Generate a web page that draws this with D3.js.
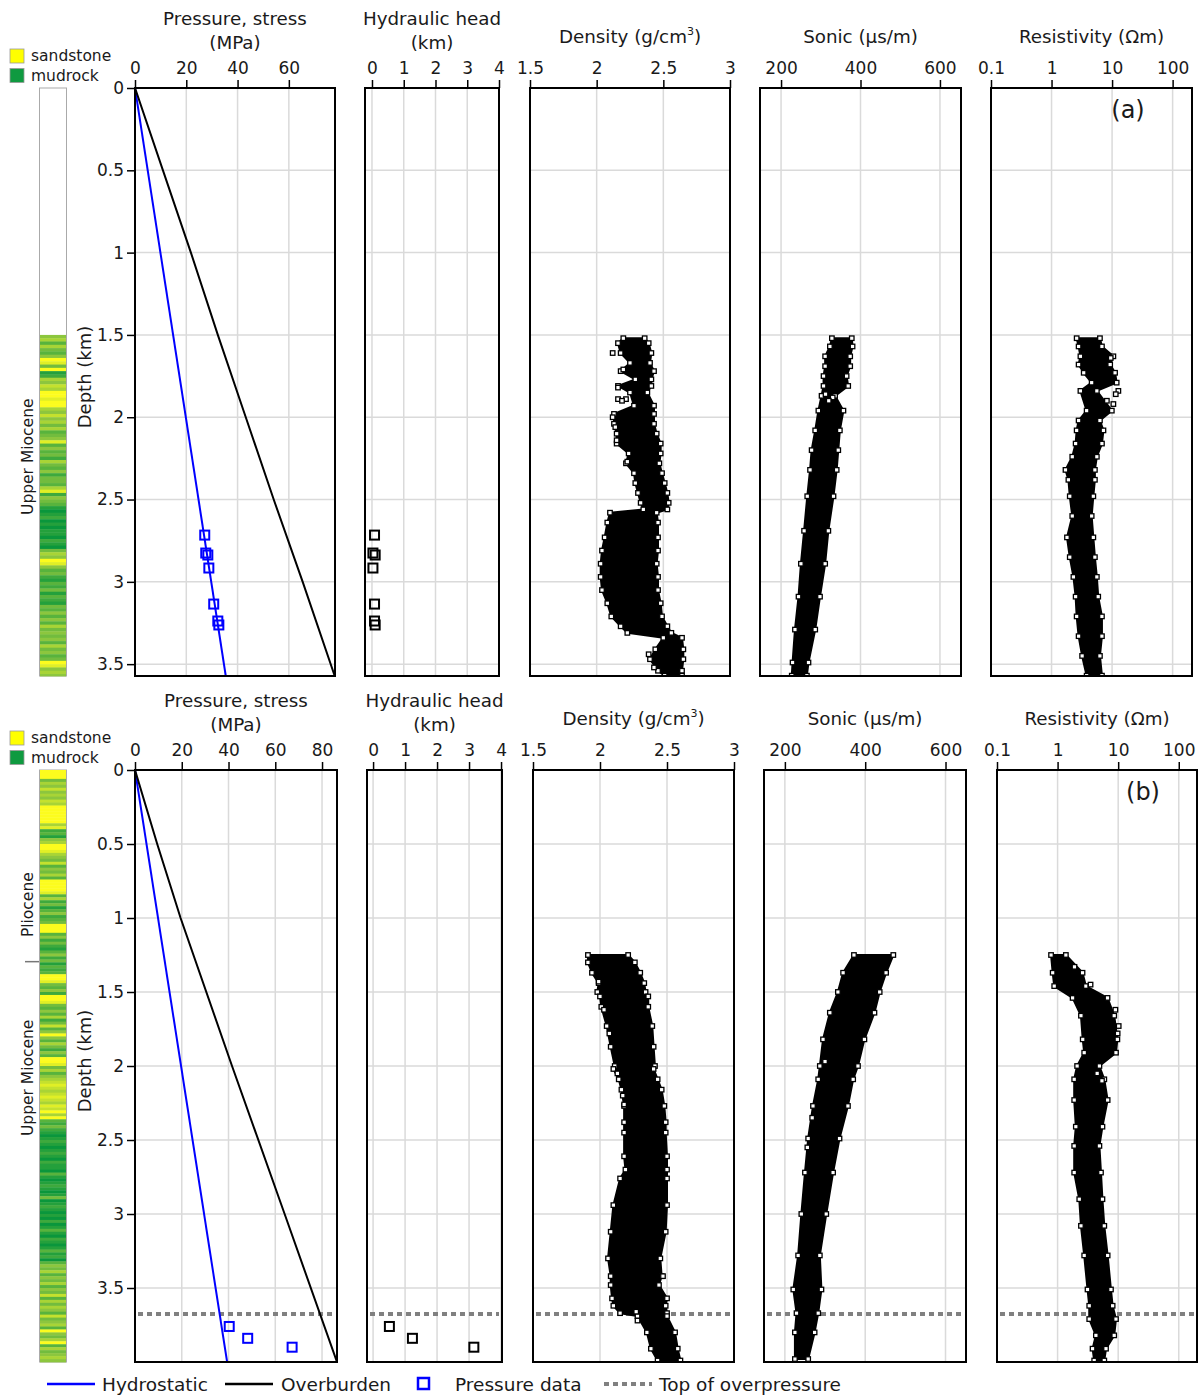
<!DOCTYPE html>
<html>
<head>
<meta charset="utf-8">
<script src="https://cdn.jsdelivr.net/npm/d3@7"></script>
<style>
body { margin: 0; background: #fff; }
#chart svg text { fill: #1a1a1a; }
</style>
</head>
<body>
<div id="chart"></div>
<script>
// ---- tick values
var depthTicks = [0, 0.5, 1, 1.5, 2, 2.5, 3, 3.5];
var pressureTicksA = [0, 20, 40, 60];
var pressureTicksB = [0, 20, 40, 60, 80];
var headTicks = [0, 1, 2, 3, 4];
var densityTicks = [1.5, 2, 2.5, 3];
var sonicTicks = [200, 400, 600];
var resTicks = [0.1, 1, 10, 100];

// ---- well (a)
var hydroDepthA = [0, 3.572];
var hydroA = [0, 35.4];
var overDepthA = [0, 0.5, 1, 1.5, 2, 2.5, 3, 3.572];
var overA = [0, 10.9, 21.8, 32.3, 43.2, 54.1, 65.4, 77.9];
var pDepthA = [2.716, 2.825, 2.837, 2.916, 3.135, 3.238, 3.262];
var pPressA = [27.2, 27.6, 28.4, 28.8, 30.7, 32.3, 32.7];
var pHeadA = [0.08, 0.03, 0.1, 0.03, 0.08, 0.08, 0.1];

// sand fraction (0-9) every 20 m, starting at 1.5 km
var lithoA = "5636435984" + "9126576998" + "9965756463" + "4583534264" + "3524436825" +
             "4310120101" + "1021046598" + "5342132413" + "2143535364" + "5453645349" + "8565";

var densDepthA = [1.52,1.55,1.61,1.67,1.72,1.77,1.81,1.85,1.93,1.98,2.04,2.10,2.16,2.22,2.28,2.34,2.40,2.46,2.52,2.56,2.58,2.64,2.73,2.81,2.89,2.97,3.05,3.13,3.21,3.27,3.31,3.34,3.41,3.47,3.54,3.57];
var densLoA = [2.20,2.16,2.18,2.25,2.18,2.29,2.16,2.25,2.28,2.13,2.13,2.15,2.15,2.24,2.22,2.28,2.29,2.31,2.33,2.35,2.10,2.08,2.06,2.04,2.03,2.03,2.04,2.08,2.11,2.18,2.23,2.50,2.44,2.40,2.46,2.51];
var densHiA = [2.36,2.39,2.41,2.40,2.43,2.41,2.41,2.38,2.43,2.43,2.43,2.45,2.48,2.48,2.47,2.49,2.51,2.53,2.54,2.53,2.45,2.46,2.46,2.46,2.45,2.46,2.46,2.48,2.49,2.53,2.56,2.64,2.65,2.65,2.64,2.64];
var densOutDepthA = [1.61,1.71,1.82,1.89,1.89,1.90,2.00,2.06,2.14,2.27,3.44,3.52];
var densOutA = [2.12,2.20,2.16,2.16,2.22,2.19,2.12,2.14,2.15,2.23,2.39,2.43];

var sonDepthA = [1.52,1.57,1.63,1.69,1.75,1.81,1.87,1.96,2.08,2.20,2.32,2.48,2.69,2.89,3.09,3.29,3.49,3.57];
var sonLoA = [328,323,311,311,307,307,302,294,286,277,273,266,258,250,244,235,229,227];
var sonHiA = [378,380,374,374,365,369,336,357,348,344,340,332,319,311,298,286,269,265];
var sonOutDepthA = [1.86,1.88,1.90];
var sonOutA = [312,330,320];

var resDepthA = [1.52,1.57,1.63,1.68,1.73,1.79,1.84,1.96,2.02,2.08,2.16,2.24,2.32,2.38,2.48,2.60,2.73,2.85,2.97,3.09,3.21,3.33,3.45,3.57];
var resLoA = [2.6,2.8,3.0,2.8,3.4,4.6,3.0,3.8,2.8,2.6,2.5,2.2,1.7,1.9,2.0,2.2,1.8,2.0,2.3,2.5,2.6,2.8,3.2,3.8];
var resHiA = [6.3,6.8,10.5,9.3,11.2,11.9,5.6,9.9,6.3,7.2,6.8,5.6,5.2,5.2,4.9,4.6,4.9,5.2,5.6,5.9,6.8,6.8,6.3,6.8];
var resOutDepthA = [1.64,1.84,1.86,1.90,1.92];
var resOutA = [9.5,12.7,11.5,8.2,10.5];

// ---- well (b)
var hydroDepthB = [0, 4];
var hydroB = [0, 39.4];
var overDepthB = [0, 0.5, 1, 2, 3, 4];
var overB = [0, 9.5, 19.5, 41.5, 64, 86.4];
var pDepthB = [3.76, 3.84, 3.90];
var pPressB = [40.3, 48.2, 67.2];
var pHeadB = [0.51, 1.23, 3.15];
var topOverpressureB = 3.675;

// sand fraction (0-9) every 20 m, starting at 0 km
var lithoB = "9994657565" + "7699999968" + "2315699865" + "4735463999" + "9836241352" +
             "3499935242" + "1352413239" + "9843529984" + "3536247359" + "5364253998" +
             "4635678767" + "8768796932" + "4210121012" + "1021103101" + "2101401210" +
             "1020131021" + "0131203546" + "3546354736" + "4653745639" + "5469364565";

var densDepthB = [1.25,1.30,1.37,1.44,1.50,1.53,1.60,1.73,1.87,2.00,2.02,2.09,2.16,2.27,2.38,2.45,2.61,2.70,2.76,2.94,3.12,3.30,3.42,3.48,3.57,3.62,3.67,3.69,3.80,3.91,3.99];
var densLoB = [1.91,1.91,1.94,1.99,1.98,2.00,2.01,2.05,2.08,2.11,2.10,2.14,2.16,2.18,2.18,2.18,2.18,2.19,2.15,2.10,2.08,2.06,2.08,2.08,2.09,2.10,2.15,2.28,2.35,2.38,2.43];
var densHiB = [2.21,2.26,2.30,2.33,2.34,2.36,2.36,2.39,2.40,2.41,2.40,2.43,2.46,2.48,2.49,2.49,2.50,2.50,2.50,2.50,2.49,2.45,2.46,2.44,2.50,2.49,2.50,2.50,2.56,2.58,2.60];
var densOutDepthB = [1.43,1.62,1.78,2.05,2.20,2.26,3.42,3.66,3.72];
var densOutB = [1.99,2.03,2.07,2.13,2.17,2.18,2.47,2.27,2.28];

var sonDepthB = [1.25,1.37,1.50,1.64,1.82,2.00,2.09,2.27,2.49,2.72,3.00,3.28,3.51,3.67,3.80,3.98];
var sonLoB = [372,345,332,312,295,287,283,270,258,250,241,233,221,229,225,225];
var sonHiB = [470,452,436,423,398,382,370,357,336,320,303,287,291,283,274,258];
var sonOutDepthB = [1.97,2.35,2.55];
var sonOutB = [300,268,256];

var resDepthB = [1.25,1.37,1.46,1.54,1.66,1.82,1.91,2.00,2.09,2.23,2.41,2.54,2.72,2.90,3.08,3.28,3.51,3.62,3.71,3.82,3.91,3.99];
var resLoB = [0.78,0.83,0.88,1.77,2.43,2.6,2.75,2.1,1.88,1.88,2.0,1.88,1.88,2.28,2.43,2.75,3.12,3.33,3.33,4.29,3.78,4.02];
var resHiB = [1.37,2.58,2.93,6.67,8.6,9.7,9.2,4.9,5.9,6.7,5.5,4.9,5.2,5.5,5.9,6.7,7.6,8.1,9.2,8.6,6.3,5.9];
var resOutDepthB = [1.33,1.45,1.62,1.73,1.78,2.05,2.10];
var resOutB = [1.9,3.5,9.0,10.2,9.8,4.5,5.4];

var lithoColor = d3.scaleLinear().domain([0, 5, 9]).range(["#0a963c", "#8cc63e", "#fcfc1e"]);

var rowA = {
    tag: "(a)", tagX: 1128, top: 88, bottom: 676, maxDepth: 3.572,
    lith: lithoA, lithStart: 1.5,
    eras: [{name: "Upper Miocene", at: 2.24}], boundaries: [],
    hydro: [hydroDepthA, hydroA], over: [overDepthA, overA],
    pdata: [pDepthA, pPressA, pHeadA],
    logs: {
        density: [densDepthA, densLoA, densHiA, densOutDepthA, densOutA],
        sonic: [sonDepthA, sonLoA, sonHiA, sonOutDepthA, sonOutA],
        res: [resDepthA, resLoA, resHiA, resOutDepthA, resOutA]
    },
    overpressure: null,
    panels: [
        {key: "pressure", x0: 135, x1: 335, domain: [0, 78], ticks: pressureTicksA},
        {key: "head", x0: 365, x1: 499, domain: [-0.22, 4], ticks: headTicks},
        {key: "density", x0: 530, x1: 730, domain: [1.5, 3], ticks: densityTicks},
        {key: "sonic", x0: 760, x1: 961, domain: [147, 653], ticks: sonicTicks},
        {key: "res", x0: 991, x1: 1192, domain: [0.1, 209], ticks: resTicks, log: true}
    ]
};

var rowB = {
    tag: "(b)", tagX: 1143, top: 770, bottom: 1362, maxDepth: 4,
    lith: lithoB, lithStart: 0,
    eras: [{name: "Pliocene", at: 0.91}, {name: "Upper Miocene", at: 2.08}], boundaries: [1.295],
    hydro: [hydroDepthB, hydroB], over: [overDepthB, overB],
    pdata: [pDepthB, pPressB, pHeadB],
    logs: {
        density: [densDepthB, densLoB, densHiB, densOutDepthB, densOutB],
        sonic: [sonDepthB, sonLoB, sonHiB, sonOutDepthB, sonOutB],
        res: [resDepthB, resLoB, resHiB, resOutDepthB, resOutB]
    },
    overpressure: topOverpressureB,
    panels: [
        {key: "pressure", x0: 135, x1: 337, domain: [0, 86.4], ticks: pressureTicksB},
        {key: "head", x0: 367, x1: 502, domain: [-0.19, 4.03], ticks: headTicks},
        {key: "density", x0: 533, x1: 734, domain: [1.5, 3], ticks: densityTicks},
        {key: "sonic", x0: 764, x1: 966, domain: [148, 651], ticks: sonicTicks},
        {key: "res", x0: 997, x1: 1197, domain: [0.1, 200], ticks: resTicks, log: true}
    ]
};

var titles = {
    pressure: ["Pressure, stress", "(MPa)"],
    head: ["Hydraulic head", "(km)"],
    density: ["Density (g/cm"],
    sonic: ["Sonic (\u03bcs/m)"],
    res: ["Resistivity (\u03a9m)"]
};

var svg = d3.select("#chart").append("svg")
    .attr("width", 1202)
    .attr("height", 1396)
    .style("font-family", "'DejaVu Sans', Verdana, sans-serif")
    .style("display", "block");

function square(sel, size) {
    return sel.attr("x", -size / 2).attr("y", -size / 2).attr("width", size).attr("height", size);
}

function drawRow(row) {
    var y = d3.scaleLinear().domain([0, row.maxDepth]).range([row.top, row.bottom]);
    var hGrid = depthTicks.filter(d => d > 0 && d < row.maxDepth);

    /* lithology column + its legend */
    var lg = svg.append("g");
    lg.append("rect").attr("x", 39.5).attr("y", row.top).attr("width", 27).attr("height", row.bottom - row.top)
        .attr("fill", "#fff").attr("stroke", "#aaa");
    var cells = row.lith.split("").map((c, i) => ({d0: row.lithStart + i * 0.02, v: +c}))
        .filter(d => d.d0 < row.maxDepth);
    lg.selectAll("rect.cell").data(cells).join("rect").attr("class", "cell")
        .attr("x", 40).attr("width", 26)
        .attr("y", d => y(d.d0))
        .attr("height", d => Math.min(y(d.d0 + 0.02), row.bottom) - y(d.d0) + 0.4)
        .attr("fill", d => lithoColor(d.v));
    lg.selectAll("text.era").data(row.eras).join("text").attr("class", "era")
        .attr("transform", d => `translate(33,${y(d.at)}) rotate(-90)`)
        .attr("text-anchor", "middle").attr("font-size", 15.5)
        .text(d => d.name);
    lg.selectAll("line.bound").data(row.boundaries).join("line").attr("class", "bound")
        .attr("x1", 25).attr("x2", 39).attr("y1", d => y(d)).attr("y2", d => y(d))
        .attr("stroke", "#777").attr("stroke-width", 1.5);

    var legend = [{name: "sandstone", color: "#ffff00"}, {name: "mudrock", color: "#0f9a40"}];
    lg.selectAll("rect.key").data(legend).join("rect").attr("class", "key")
        .attr("x", 10).attr("y", (d, i) => row.top - 39 + i * 19.5)
        .attr("width", 14).attr("height", 14)
        .attr("fill", d => d.color).attr("stroke", "#999").attr("stroke-width", 0.8);
    lg.selectAll("text.key").data(legend).join("text").attr("class", "key")
        .attr("x", 31).attr("y", (d, i) => row.top - 27 + i * 19.5)
        .attr("font-size", 15.5)
        .text(d => d.name);

    svg.append("text")
        .attr("transform", `translate(91,${(row.top + row.bottom) / 2 - 5}) rotate(-90)`)
        .attr("text-anchor", "middle").attr("font-size", 18)
        .text("Depth (km)");

    row.panels.forEach(function(p, i) {
        var x = (p.log ? d3.scaleLog() : d3.scaleLinear()).domain(p.domain).range([p.x0, p.x1]);
        var g = svg.append("g");
        var clipId = "clip-" + row.tag.replace(/\W/g, "") + "-" + i;
        g.append("clipPath").attr("id", clipId).append("rect")
            .attr("x", p.x0).attr("y", row.top).attr("width", p.x1 - p.x0).attr("height", row.bottom - row.top);

        // grid
        g.selectAll("line.vg").data(p.ticks).join("line").attr("class", "vg")
            .attr("x1", d => x(d)).attr("x2", d => x(d))
            .attr("y1", row.top).attr("y2", row.bottom)
            .attr("stroke", "#dadada").attr("stroke-width", 1.5);
        g.selectAll("line.hg").data(hGrid).join("line").attr("class", "hg")
            .attr("x1", p.x0).attr("x2", p.x1)
            .attr("y1", d => y(d)).attr("y2", d => y(d))
            .attr("stroke", "#dadada").attr("stroke-width", 1.5);

        var c = g.append("g").attr("clip-path", `url(#${clipId})`);

        if (row.overpressure != null) {
            c.append("line")
                .attr("x1", p.x0 + 3).attr("x2", p.x1 - 3)
                .attr("y1", y(row.overpressure)).attr("y2", y(row.overpressure))
                .attr("stroke", "#808080").attr("stroke-width", 4).attr("stroke-dasharray", "5,4");
        }

        if (p.key == "pressure") {
            var line = d3.line().x(d => x(d[1])).y(d => y(d[0]));
            c.append("path").datum(d3.zip(row.hydro[0], row.hydro[1]))
                .attr("d", line).attr("fill", "none").attr("stroke", "#0000ff").attr("stroke-width", 2);
            c.append("path").datum(d3.zip(row.over[0], row.over[1]))
                .attr("d", line).attr("fill", "none").attr("stroke", "#000").attr("stroke-width", 2);
            c.selectAll("rect.pd").data(d3.zip(row.pdata[0], row.pdata[1])).join("rect").attr("class", "pd")
                .call(square, 9)
                .attr("transform", d => `translate(${x(d[1])},${y(d[0])})`)
                .attr("fill", "none").attr("stroke", "#0000ff").attr("stroke-width", 2);
        } else if (p.key == "head") {
            c.selectAll("rect.pd").data(d3.zip(row.pdata[0], row.pdata[2])).join("rect").attr("class", "pd")
                .call(square, 9)
                .attr("transform", d => `translate(${x(d[1])},${y(d[0])})`)
                .attr("fill", "none").attr("stroke", "#000").attr("stroke-width", 2);
        } else {
            // well log cloud: envelope of the data, edge samples and stray points as small squares
            var log = row.logs[p.key];
            var env = d3.zip(log[0], log[1], log[2]);
            c.append("path").datum(env)
                .attr("d", d3.area().y(d => y(d[0])).x0(d => x(d[1])).x1(d => x(d[2])))
                .attr("fill", "#000").attr("stroke", "#000").attr("stroke-width", 2).attr("stroke-linejoin", "round");
            var pts = env.map(d => [d[0], d[1]]).concat(env.map(d => [d[0], d[2]]))
                .concat(d3.zip(log[3], log[4]));
            c.selectAll("rect.pt").data(pts).join("rect").attr("class", "pt")
                .call(square, 4.5)
                .attr("transform", d => `translate(${x(d[1])},${y(d[0])})`)
                .attr("fill", "#fff").attr("stroke", "#000").attr("stroke-width", 1.3);
        }

        g.append("rect")
            .attr("x", p.x0).attr("y", row.top).attr("width", p.x1 - p.x0).attr("height", row.bottom - row.top)
            .attr("fill", "none").attr("stroke", "#000").attr("stroke-width", 2);

        var ax = g.append("g").attr("transform", `translate(0,${row.top})`)
            .call(d3.axisTop(x).tickValues(p.ticks).tickFormat(d => String(d)).tickSize(8).tickPadding(6));
        ax.select(".domain").remove();
        ax.attr("font-size", 17).attr("font-family", null);
        ax.selectAll("line").attr("stroke-width", 1.5);

        if (i == 0) {
            var ay = g.append("g").attr("transform", `translate(${p.x0},0)`)
                .call(d3.axisLeft(y).tickValues(depthTicks).tickFormat(d => String(d)).tickSize(8).tickPadding(3));
            ay.select(".domain").remove();
            ay.attr("font-size", 17).attr("font-family", null);
            ay.selectAll("line").attr("stroke-width", 1.5);
        }

        // title
        var cx = (p.x0 + p.x1) / 2;
        var lines = titles[p.key];
        if (lines.length == 2) {
            g.append("text").attr("x", cx).attr("y", row.top - 63).attr("text-anchor", "middle")
                .attr("font-size", 18.3).text(lines[0]);
            g.append("text").attr("x", cx).attr("y", row.top - 39).attr("text-anchor", "middle")
                .attr("font-size", 18.3).text(lines[1]);
        } else {
            var t = g.append("text").attr("x", cx).attr("y", row.top - 45).attr("text-anchor", "middle")
                .attr("font-size", 18.3).text(lines[0]);
            if (p.key == "density") {
                t.append("tspan").attr("font-size", 11).attr("dy", -8).text("3");
                t.append("tspan").attr("dy", 8).text(")");
            }
        }
    });

    svg.append("text").attr("x", row.tagX).attr("y", row.top + 30)
        .attr("text-anchor", "middle").attr("font-size", 24).text(row.tag);
}

drawRow(rowA);
drawRow(rowB);

/* bottom legend */
var ly = 1384;
var bl = svg.append("g");
bl.append("line").attr("x1", 47).attr("x2", 95).attr("y1", ly).attr("y2", ly)
    .attr("stroke", "#0000ff").attr("stroke-width", 2.5);
bl.append("text").attr("x", 102).attr("y", ly + 7).attr("font-size", 18.5).text("Hydrostatic");
bl.append("line").attr("x1", 225).attr("x2", 273).attr("y1", ly).attr("y2", ly)
    .attr("stroke", "#000").attr("stroke-width", 2.5);
bl.append("text").attr("x", 281).attr("y", ly + 7).attr("font-size", 18.5).text("Overburden");
bl.append("rect").attr("x", 418).attr("y", ly - 6).attr("width", 11).attr("height", 11)
    .attr("fill", "none").attr("stroke", "#0000ff").attr("stroke-width", 2.5);
bl.append("text").attr("x", 455).attr("y", ly + 7).attr("font-size", 18.5).text("Pressure data");
bl.append("line").attr("x1", 604).attr("x2", 652).attr("y1", ly).attr("y2", ly)
    .attr("stroke", "#808080").attr("stroke-width", 4).attr("stroke-dasharray", "5,4");
bl.append("text").attr("x", 659).attr("y", ly + 7).attr("font-size", 18.5).text("Top of overpressure");
</script>
</body>
</html>
